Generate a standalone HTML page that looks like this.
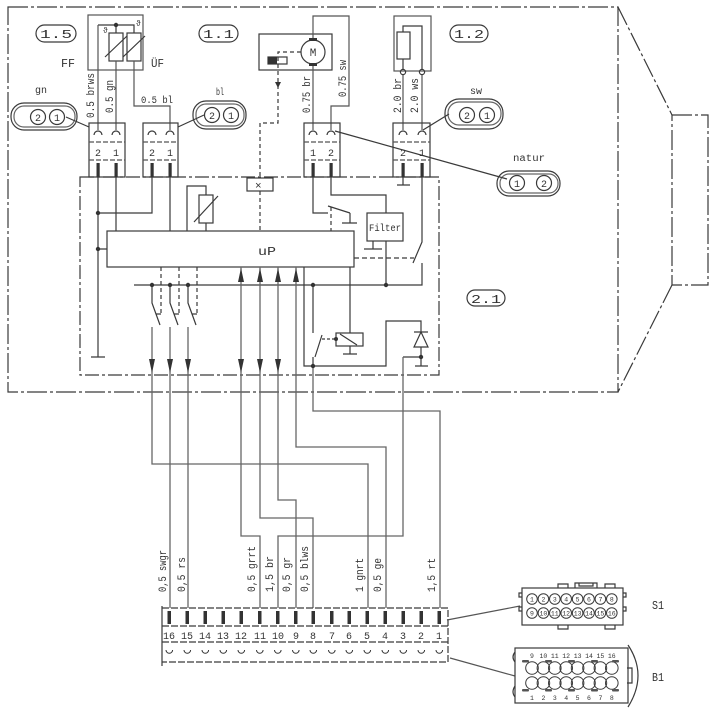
<!DOCTYPE html>
<html><head><meta charset="utf-8"><style>
html,body{margin:0;padding:0;background:#fff;}
svg{display:block;}
text{font-family:"Liberation Mono",monospace;fill:#333;}
.s{font-family:"Liberation Sans",sans-serif;}
</style></head><body>
<svg width="718" height="717" viewBox="0 0 718 717" xmlns="http://www.w3.org/2000/svg">
<rect width="718" height="717" fill="#fff"/>
<g fill="none" stroke="#3a3a3a" stroke-width="1.2">
<!-- outer box + trapezoid -->
<path d="M8,7 H618 V392 H8 Z" stroke-dasharray="20,3,3,3"/>
<path d="M618,7 L672,115 M672,285 L618,392" stroke-dasharray="20,3,3,3"/>
<rect x="672" y="115" width="36" height="170" stroke-dasharray="20,3,3,3"/>
<!-- inner box -->
<rect x="80" y="177" width="359" height="198" stroke-dasharray="14,3,3,3"/>

<!-- FF / UF -->
<rect x="88" y="15" width="55" height="55" stroke="#555"/>
<path d="M98,25 H134 V33 M116,25 V33"/>
<rect x="109" y="33" width="14" height="28"/>
<rect x="127" y="33" width="14" height="28"/>
<path d="M105,57 L127,36 M123,57 L145,36"/>
<path d="M98,25 V130 M116,61 V130 M134,61 V106 H170 V130" stroke="#555"/>

<!-- motor -->
<rect x="259" y="34" width="73" height="36"/>
<circle cx="313" cy="52" r="12"/>
<path d="M313,40 V16 H349 V106 H331 V130 M313,64 V130" stroke="#555"/>
<rect x="268" y="57" width="19" height="7"/>
<path d="M301,52 H278 V123 H260 V178" stroke-dasharray="4,3"/>

<!-- heater 1.2 -->
<rect x="394" y="16" width="37" height="55" stroke="#555"/>
<rect x="397" y="32" width="13" height="27"/>
<path d="M403,32 V26 H422 V69 M403,59 V69"/>
<circle cx="403" cy="72" r="2.6"/>
<circle cx="422" cy="72" r="2.6"/>
<path d="M403,75 V130 M422,75 V130" stroke="#555"/>

<!-- top connectors -->
<g>
<rect x="89" y="123" width="36" height="54"/>
<rect x="143" y="123" width="35" height="54"/>
<rect x="304" y="123" width="36" height="54"/>
<rect x="393" y="123" width="37" height="54"/>
</g>
<g stroke-dasharray="5,2" stroke="#555">
<path d="M89,142 H125 M89,160 H125 M143,142 H178 M143,160 H178 M304,142 H340 M304,160 H340 M393,142 H430 M393,160 H430"/>
</g>
<path d="M94,135 A4,4 0 0 1 102,135 M112,135 A4,4 0 0 1 120,135 M148,135 A4,4 0 0 1 156,135 M166,135 A4,4 0 0 1 174,135 M309,135 A4,4 0 0 1 317,135 M327,135 A4,4 0 0 1 335,135 M399,135 A4,4 0 0 1 407,135 M418,135 A4,4 0 0 1 426,135"/>

<!-- pills -->
<rect x="11" y="103" width="66" height="27" rx="13"/>
<rect x="14" y="106" width="61" height="21" rx="10" stroke="#666"/>
<circle cx="38" cy="117" r="7.5"/><circle cx="57" cy="117" r="7.5"/>
<path d="M66,117 L89,127"/>

<rect x="193" y="101" width="53" height="28" rx="13"/>
<rect x="196" y="104" width="48" height="22" rx="10" stroke="#666"/>
<circle cx="212" cy="115" r="7.5"/><circle cx="231" cy="115" r="7.5"/>
<path d="M204,115 L178,127"/>

<rect x="445" y="99" width="58" height="30" rx="14"/>
<rect x="448" y="102" width="53" height="23" rx="11" stroke="#666"/>
<circle cx="467" cy="115" r="7.5"/><circle cx="487" cy="115" r="7.5"/>
<path d="M449,114 L423,130"/>

<rect x="497" y="171" width="63" height="25" rx="12"/>
<rect x="500" y="174" width="58" height="19" rx="9" stroke="#666"/>
<circle cx="517" cy="183" r="7.5"/><circle cx="544" cy="183" r="7.5"/>
<path d="M335,131 L507,179"/>

<rect x="36" y="25" width="40" height="17" rx="8.5"/>
<rect x="199" y="25" width="39" height="17" rx="8.5"/>
<rect x="450" y="25" width="38" height="17" rx="8.5"/>
<rect x="467" y="290" width="38" height="16" rx="8"/>

<!-- inside box wiring -->
<path d="M98,177 V357 M91,357 H105 M98,213 H152 V177 M98,249 H107 M116,177 V231 M170,177 V231"/>
<path d="M187,231 V186 H206 V195 M206,223 V231"/>
<rect x="199" y="195" width="14" height="28"/>
<path d="M194,222 L218,196"/>
<rect x="247" y="178" width="26" height="13"/>
<path d="M260,191 V231" stroke-dasharray="4,3"/>
<!-- mid pin switches -->
<path d="M313,177 V213 H328 M328,206 L350,213 M350,213 V223 M342,223 H357"/>
<path d="M331,207 V231" stroke-dasharray="4,3"/>
<path d="M331,177 V195 H386 V213"/>
<rect x="367" y="213" width="36" height="28"/>
<path d="M386,241 V285 M373,241 V249 M364,249 H382"/>
<path d="M403,177 V185 M397,185 H410"/>
<path d="M422,177 V242 L413,263 M422,263 V285 H134"/>
<path d="M354,258 H414" stroke-dasharray="5,3"/>
<!-- uP -->
<rect x="107" y="231" width="247" height="36"/>
<!-- switch group -->
<path d="M152,285 V303 L160,325 M156,314 H161 M170,285 V303 L178,325 M174,314 H179 M188,285 V303 L196,325 M192,314 H197"/>
<path d="M161,267 V314 M179,267 V314 M197,267 V314" stroke-dasharray="4,3"/>
<!-- relay -->
<path d="M350,267 V333"/>
<rect x="336" y="333" width="27" height="13"/>
<path d="M340,334 L357,345 M350,346 V354 M343,354 H357"/>
<path d="M313,285 V333 M315,357 L322,335 M313,357 V366"/>
<path d="M322,339 H336" stroke-dasharray="3,2"/>
<path d="M304,267 V366 H386 V321 H421 V332 M414,332 H428 M421,332 L414,347 H428 Z M421,347 V366 M415,366 H428 M421,357 H403"/>

<!-- outgoing wires -->
<g stroke="#666" stroke-width="1.3">
<path d="M152,327 V464 H368 V608"/>
<path d="M170,327 V608"/>
<path d="M188,327 V608"/>
<path d="M241,267 V536 H260 V608"/>
<path d="M260,267 V518 H313 V608"/>
<path d="M278,267 V500 H296 V608"/>
<path d="M296,267 V447 H386 V608"/>
<path d="M403,357 V536 H278 V608"/>
<path d="M313,366 V411 H440 V608"/>
</g>

<!-- bottom connector -->
<path d="M162,606 V666"/>
<path d="M162,608 H448 V662 H162 M162,626 H448 M162,642 H448" stroke-dasharray="7,2"/>
<path d="M447,620 L520,606 M450,658 L515,676" stroke="#555"/>

<!-- S1 -->
<rect x="522" y="588" width="101" height="37"/>
<path d="M558,588 V584 H568 V588 M605,588 V584 H615 V588 M575,588 V583 H597 V588 M579,583 V586 H593 V583 M558,625 V629 H568 V625 M605,625 V629 H615 V625 M522,593 H519 V597 H522 M522,607 H519 V611 H522 M623,593 H626 V597 H623 M623,607 H626 V611 H623"/>
<!-- B1 -->
<rect x="515" y="648" width="113" height="55"/>
<path d="M628,645 Q648,675 628,707 M627,668 H632 V683 H627 M515,652 Q511,657 515,662 M515,686 Q511,692 515,697"/>
</g>

<!-- S1 circles -->
<g fill="none" stroke="#3a3a3a" stroke-width="1">
<circle cx="532" cy="599" r="5.3"/><circle cx="543.4" cy="599" r="5.3"/><circle cx="554.8" cy="599" r="5.3"/><circle cx="566.2" cy="599" r="5.3"/><circle cx="577.6" cy="599" r="5.3"/><circle cx="589" cy="599" r="5.3"/><circle cx="600.4" cy="599" r="5.3"/><circle cx="611.8" cy="599" r="5.3"/>
<circle cx="532" cy="613" r="5.3"/><circle cx="543.4" cy="613" r="5.3"/><circle cx="554.8" cy="613" r="5.3"/><circle cx="566.2" cy="613" r="5.3"/><circle cx="577.6" cy="613" r="5.3"/><circle cx="589" cy="613" r="5.3"/><circle cx="600.4" cy="613" r="5.3"/><circle cx="611.8" cy="613" r="5.3"/>
<circle cx="532" cy="668" r="6.3"/><circle cx="543.4" cy="668" r="6.3"/><circle cx="554.8" cy="668" r="6.3"/><circle cx="566.2" cy="668" r="6.3"/><circle cx="577.6" cy="668" r="6.3"/><circle cx="589" cy="668" r="6.3"/><circle cx="600.4" cy="668" r="6.3"/><circle cx="611.8" cy="668" r="6.3"/>
<circle cx="532" cy="683" r="6.3"/><circle cx="543.4" cy="683" r="6.3"/><circle cx="554.8" cy="683" r="6.3"/><circle cx="566.2" cy="683" r="6.3"/><circle cx="577.6" cy="683" r="6.3"/><circle cx="589" cy="683" r="6.3"/><circle cx="600.4" cy="683" r="6.3"/><circle cx="611.8" cy="683" r="6.3"/>
</g>
<g fill="#555">
<rect x="522" y="660" width="7" height="2.5" rx="1"/><rect x="545" y="660" width="7" height="2.5" rx="1"/><rect x="568" y="660" width="7" height="2.5" rx="1"/><rect x="591" y="660" width="7" height="2.5" rx="1"/><rect x="612" y="660" width="7" height="2.5" rx="1"/>
<rect x="522" y="689" width="7" height="2.5" rx="1"/><rect x="545" y="689" width="7" height="2.5" rx="1"/><rect x="568" y="689" width="7" height="2.5" rx="1"/><rect x="591" y="689" width="7" height="2.5" rx="1"/><rect x="612" y="689" width="7" height="2.5" rx="1"/>
</g>

<!-- filled bits -->
<g fill="#333" stroke="none">
<rect x="96.5" y="163" width="3.2" height="14"/><rect x="114.5" y="163" width="3.2" height="14"/>
<rect x="150.5" y="163" width="3.2" height="14"/><rect x="168.5" y="163" width="3.2" height="14"/>
<rect x="311.5" y="163" width="3.2" height="14"/><rect x="329.5" y="163" width="3.2" height="14"/>
<rect x="401.5" y="163" width="3.2" height="14"/><rect x="420.5" y="163" width="3.2" height="14"/>
<rect x="309" y="38" width="8" height="3"/><rect x="309" y="63" width="8" height="3"/>
<rect x="268" y="57" width="9" height="7"/>
<path d="M275,82 H281 L278,88 Z"/>
<circle cx="116" cy="25" r="2.2"/>
<circle cx="98" cy="213" r="2.2"/><circle cx="98" cy="249" r="2.2"/>
<circle cx="152" cy="285" r="2.2"/><circle cx="170" cy="285" r="2.2"/><circle cx="188" cy="285" r="2.2"/>
<circle cx="313" cy="285" r="2.2"/><circle cx="386" cy="285" r="2.2"/>
<circle cx="336" cy="339" r="2"/><circle cx="313" cy="366" r="2.2"/><circle cx="421" cy="357" r="2.2"/>
<!-- arrows up -->
<path d="M238,282 L241,268 L244,282 Z M257,282 L260,268 L263,282 Z M275,282 L278,268 L281,282 Z M293,282 L296,268 L299,282 Z"/>
<!-- arrows down -->
<path d="M238,359 L241,373 L244,359 Z M257,359 L260,373 L263,359 Z M275,359 L278,373 L281,359 Z"/>
<path d="M149,359 L152,373 L155,359 Z M167,359 L170,373 L173,359 Z M185,359 L188,373 L191,359 Z"/>
<!-- bottom connector pins -->
<rect x="167.5" y="611" width="3.5" height="13"/><rect x="185.5" y="611" width="3.5" height="13"/><rect x="203.5" y="611" width="3.5" height="13"/><rect x="221.5" y="611" width="3.5" height="13"/><rect x="239.5" y="611" width="3.5" height="13"/><rect x="258" y="611" width="3.5" height="13"/><rect x="276" y="611" width="3.5" height="13"/><rect x="294" y="611" width="3.5" height="13"/><rect x="311.5" y="611" width="3.5" height="13"/><rect x="330" y="611" width="3.5" height="13"/><rect x="347.5" y="611" width="3.5" height="13"/><rect x="365.5" y="611" width="3.5" height="13"/><rect x="383.5" y="611" width="3.5" height="13"/><rect x="401.5" y="611" width="3.5" height="13"/><rect x="419.5" y="611" width="3.5" height="13"/><rect x="437.5" y="611" width="3.5" height="13"/>
</g>
<path d="M166,650 A3.3,3.3 0 0 0 172.6,650 M184,650 A3.3,3.3 0 0 0 190.6,650 M202,650 A3.3,3.3 0 0 0 208.6,650 M220,650 A3.3,3.3 0 0 0 226.6,650 M238,650 A3.3,3.3 0 0 0 244.6,650 M256.5,650 A3.3,3.3 0 0 0 263.1,650 M274.5,650 A3.3,3.3 0 0 0 281.1,650 M292.5,650 A3.3,3.3 0 0 0 299.1,650 M310,650 A3.3,3.3 0 0 0 316.6,650 M328.5,650 A3.3,3.3 0 0 0 335.1,650 M346,650 A3.3,3.3 0 0 0 352.6,650 M364,650 A3.3,3.3 0 0 0 370.6,650 M382,650 A3.3,3.3 0 0 0 388.6,650 M400,650 A3.3,3.3 0 0 0 406.6,650 M418,650 A3.3,3.3 0 0 0 424.6,650 M436,650 A3.3,3.3 0 0 0 442.6,650" fill="none" stroke="#333" stroke-width="1"/>

<!-- TEXT -->
<g font-size="12">
<text x="40" y="38" textLength="32" lengthAdjust="spacingAndGlyphs">1.5</text>
<text x="203" y="38" textLength="31" lengthAdjust="spacingAndGlyphs">1.1</text>
<text x="454" y="38" textLength="30" lengthAdjust="spacingAndGlyphs">1.2</text>
<text x="471" y="303" textLength="30" lengthAdjust="spacingAndGlyphs">2.1</text>
<text x="61" y="67" textLength="14" lengthAdjust="spacingAndGlyphs">FF</text>
<text x="151" y="67" textLength="13" lengthAdjust="spacingAndGlyphs">ÜF</text>
<text x="258" y="255" textLength="18" lengthAdjust="spacingAndGlyphs">uP</text>
</g>
<g font-size="10">
<text x="103" y="33" font-size="8">ϑ</text>
<text x="136" y="26" font-size="8">ϑ</text>
<text x="313" y="56" text-anchor="middle" font-size="11">M</text>
<text x="255" y="189" font-size="11">×</text>
<text x="369" y="231" textLength="32" lengthAdjust="spacingAndGlyphs">Filter</text>
<text x="35" y="93" textLength="12" lengthAdjust="spacingAndGlyphs">gn</text>
<text x="216" y="95" textLength="8" lengthAdjust="spacingAndGlyphs">bl</text>
<text x="470" y="94" textLength="12" lengthAdjust="spacingAndGlyphs">sw</text>
<text x="513" y="161" textLength="32" lengthAdjust="spacingAndGlyphs">natur</text>
<text x="141" y="103" textLength="32" lengthAdjust="spacingAndGlyphs">0.5 bl</text>
<!-- pill numbers -->
<text x="38" y="121" text-anchor="middle">2</text><text x="57" y="121" text-anchor="middle">1</text>
<text x="212" y="119" text-anchor="middle">2</text><text x="231" y="119" text-anchor="middle">1</text>
<text x="467" y="119" text-anchor="middle">2</text><text x="487" y="119" text-anchor="middle">1</text>
<text x="517" y="187" text-anchor="middle">1</text><text x="544" y="187" text-anchor="middle">2</text>
<!-- connector numbers -->
<text x="98" y="156" text-anchor="middle">2</text><text x="116" y="156" text-anchor="middle">1</text>
<text x="152" y="156" text-anchor="middle">2</text><text x="170" y="156" text-anchor="middle">1</text>
<text x="313" y="156" text-anchor="middle">1</text><text x="331" y="156" text-anchor="middle">2</text>
<text x="403" y="156" text-anchor="middle">2</text><text x="422" y="156" text-anchor="middle">1</text>
</g>
<!-- rotated labels top -->
<g font-size="11">
<text transform="translate(94,118) rotate(-90)" textLength="45" lengthAdjust="spacingAndGlyphs">0.5 brws</text>
<text transform="translate(113,113) rotate(-90)" textLength="33" lengthAdjust="spacingAndGlyphs">0.5 gn</text>
<text transform="translate(310,113) rotate(-90)" textLength="37" lengthAdjust="spacingAndGlyphs">0.75 br</text>
<text transform="translate(346,97) rotate(-90)" textLength="37" lengthAdjust="spacingAndGlyphs">0.75 sw</text>
<text transform="translate(401,113) rotate(-90)" textLength="35" lengthAdjust="spacingAndGlyphs">2.0 br</text>
<text transform="translate(418,113) rotate(-90)" textLength="35" lengthAdjust="spacingAndGlyphs">2.0 ws</text>
<!-- bottom labels -->
<text transform="translate(166,592) rotate(-90)" textLength="42" lengthAdjust="spacingAndGlyphs">0,5 swgr</text>
<text transform="translate(185,592) rotate(-90)" textLength="35" lengthAdjust="spacingAndGlyphs">0,5 rs</text>
<text transform="translate(255,592) rotate(-90)" textLength="46" lengthAdjust="spacingAndGlyphs">0,5 grrt</text>
<text transform="translate(273,592) rotate(-90)" textLength="36" lengthAdjust="spacingAndGlyphs">1,5 br</text>
<text transform="translate(290,592) rotate(-90)" textLength="35" lengthAdjust="spacingAndGlyphs">0,5 gr</text>
<text transform="translate(308,592) rotate(-90)" textLength="46" lengthAdjust="spacingAndGlyphs">0,5 blws</text>
<text transform="translate(363,592) rotate(-90)" textLength="34" lengthAdjust="spacingAndGlyphs">1 gnrt</text>
<text transform="translate(381,592) rotate(-90)" textLength="34" lengthAdjust="spacingAndGlyphs">0,5 ge</text>
<text transform="translate(435,592) rotate(-90)" textLength="34" lengthAdjust="spacingAndGlyphs">1,5 rt</text>
</g>
<!-- bottom connector numbers -->
<g font-size="10" text-anchor="middle">
<text x="169" y="639">16</text><text x="187" y="639">15</text><text x="205" y="639">14</text><text x="223" y="639">13</text><text x="241" y="639">12</text><text x="260" y="639">11</text><text x="278" y="639">10</text><text x="296" y="639">9</text><text x="313" y="639">8</text><text x="332" y="639">7</text><text x="349" y="639">6</text><text x="367" y="639">5</text><text x="385" y="639">4</text><text x="403" y="639">3</text><text x="421" y="639">2</text><text x="439" y="639">1</text>
</g>
<!-- S1 / B1 numbers -->
<g font-size="6.5" text-anchor="middle">
<text x="532" y="601.5">1</text><text x="543.4" y="601.5">2</text><text x="554.8" y="601.5">3</text><text x="566.2" y="601.5">4</text><text x="577.6" y="601.5">5</text><text x="589" y="601.5">6</text><text x="600.4" y="601.5">7</text><text x="611.8" y="601.5">8</text>
<text x="532" y="615.5">9</text><text x="543.4" y="615.5">10</text><text x="554.8" y="615.5">11</text><text x="566.2" y="615.5">12</text><text x="577.6" y="615.5">13</text><text x="589" y="615.5">14</text><text x="600.4" y="615.5">15</text><text x="611.8" y="615.5">16</text>
<text x="532" y="658">9</text><text x="543.4" y="658">10</text><text x="554.8" y="658">11</text><text x="566.2" y="658">12</text><text x="577.6" y="658">13</text><text x="589" y="658">14</text><text x="600.4" y="658">15</text><text x="611.8" y="658">16</text>
<text x="532" y="700">1</text><text x="543.4" y="700">2</text><text x="554.8" y="700">3</text><text x="566.2" y="700">4</text><text x="577.6" y="700">5</text><text x="589" y="700">6</text><text x="600.4" y="700">7</text><text x="611.8" y="700">8</text>
</g>
<g font-size="12">
<text x="652" y="609" textLength="12" lengthAdjust="spacingAndGlyphs">S1</text>
<text x="652" y="681" textLength="12" lengthAdjust="spacingAndGlyphs">B1</text>
</g>
</svg>
</body></html>
